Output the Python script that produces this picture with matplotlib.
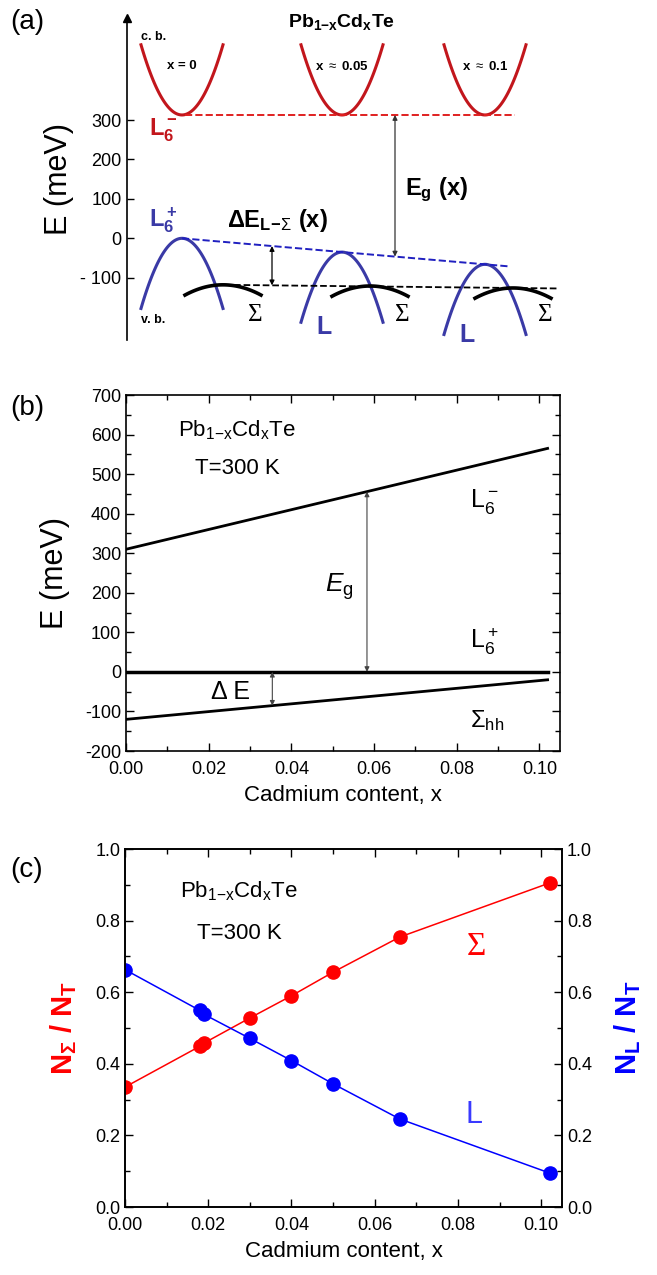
import numpy as np
import matplotlib
matplotlib.use("Agg")
import matplotlib.pyplot as plt
from matplotlib.ticker import MultipleLocator, FormatStrFormatter

plt.rcParams['font.family'] = ['Liberation Sans', 'DejaVu Sans']
plt.rcParams['mathtext.fontset'] = 'custom'
plt.rcParams['mathtext.rm'] = 'Liberation Sans'
plt.rcParams['mathtext.it'] = 'Liberation Sans:italic'
plt.rcParams['mathtext.bf'] = 'Liberation Sans:bold'
plt.rcParams['axes.unicode_minus'] = False

# ---- panel (a): schematic band edges (arbitrary k units, meV) ----
k_center = [55, 215, 358]          # L point of each composition
E_c_L = [313, 313, 313]            # L6- conduction band minimum
E_v_L = [0, -35, -66]              # L6+ valence band maximum
k_sigma = [96, 243, 386]           # Sigma valence band maxima
E_v_S = [-118, -121, -126]
comp_labels = ['x = 0', r'x $\approx$ 0.05', r'x $\approx$ 0.1']
L_halfwidth = 41
L_depth = 178
S_halfwidth = 38
S_depth = 26

# ---- panel (b): band energies vs Cd content ----
x_b = [0.0, 0.102]
E_L6m = [310, 565]
E_L6p = [0, 0]
E_Shh = [-120, -20]

# ---- panel (c): carrier fractions ----
x_c = [0.0, 0.018, 0.019, 0.030, 0.040, 0.050, 0.066, 0.102]
n_sigma = [0.335, 0.449, 0.458, 0.528, 0.590, 0.656, 0.754, 0.905]
n_L = [0.663, 0.549, 0.538, 0.471, 0.409, 0.344, 0.246, 0.095]

W, H = 657, 1275
fig = plt.figure(figsize=(W / 100, H / 100), dpi=100)

red_a = '#c2161c'
blue_a = '#3a3aa6'

# ================= (a) =================
ax_a = fig.add_axes([127 / W, 1 - 340 / H, 530 / W, 322 / H])
ax_a.set_xlim(0, 530)
ax_a.set_ylim(-258, 559)
for s in ['top', 'right', 'bottom']:
    ax_a.spines[s].set_visible(False)
ax_a.spines['left'].set_linewidth(1.2)
ax_a.set_xticks([])
ax_a.set_yticks([-100, 0, 100, 200, 300])
ax_a.set_yticklabels(['- 100', '0', '100', '200', '300'])
ax_a.tick_params(axis='y', direction='in', length=5, width=1, labelsize=13, pad=4)
ax_a.plot(0, 1, marker='^', color='k', markersize=6, transform=ax_a.transAxes, clip_on=False)
ax_a.set_ylabel('E (meV)', fontsize=22)
ax_a.yaxis.set_label_coords(-0.1, 0.5)

kk = np.linspace(-L_halfwidth, L_halfwidth, 120)
ks = np.linspace(-S_halfwidth, S_halfwidth, 120)
for kc, ec, ev, kS, eS in zip(k_center, E_c_L, E_v_L, k_sigma, E_v_S):
    ax_a.plot(kc + kk, ec + L_depth * (kk / L_halfwidth) ** 2, color=red_a, lw=2.2)
    ax_a.plot(kc + kk, ev - L_depth * (kk / L_halfwidth) ** 2, color=blue_a, lw=2.2, clip_on=False)
    ax_a.plot(kS + ks, eS - S_depth * (ks / S_halfwidth) ** 2, color='k', lw=2.6)

# dashed guide lines through band extrema
ax_a.plot([k_center[0] + 3, 388], [E_c_L[0], E_c_L[-1]], '--', color='#e02020', lw=1.4)
slope_v = (E_v_L[-1] - E_v_L[0]) / (k_center[-1] - k_center[0])
ax_a.plot([k_center[0], 383], [E_v_L[0], E_v_L[0] + slope_v * (383 - k_center[0])],
          '--', color='#2020c0', lw=1.4)
slope_s = (E_v_S[-1] - E_v_S[0]) / (k_sigma[-1] - k_sigma[0])
ax_a.plot([107, 430], [E_v_S[0] + slope_s * (107 - k_sigma[0]), E_v_S[0] + slope_s * (430 - k_sigma[0])],
          '--', color='k', lw=1.3)

# arrows
k_eg = 268
ev_eg = E_v_L[0] + slope_v * (k_eg - k_center[0])
ax_a.annotate('', xy=(k_eg, ev_eg), xytext=(k_eg, E_c_L[0]),
              arrowprops=dict(arrowstyle='<|-|>', color='#333333', lw=0.9,
                              mutation_scale=7, shrinkA=0, shrinkB=0))
k_de = 145
ax_a.annotate('', xy=(k_de, E_v_S[0] + slope_s * (k_de - k_sigma[0])),
              xytext=(k_de, E_v_L[0] + slope_v * (k_de - k_center[0])),
              arrowprops=dict(arrowstyle='<|-|>', color='k', lw=0.9,
                              mutation_scale=7, shrinkA=0, shrinkB=0))

ax_a.text(215, 549, r'Pb$_\mathbf{1{-}x}$Cd$_\mathbf{x}$Te', fontsize=14, fontweight='bold',
          ha='center', va='center')
ax_a.text(14, 511, 'c. b.', fontsize=9, fontweight='bold', ha='left', va='center')
ax_a.text(14, -207, 'v. b.', fontsize=9, fontweight='bold', ha='left', va='center')
for kc, lab in zip(k_center, comp_labels):
    ax_a.text(kc, 437, lab, fontsize=9.5, fontweight='bold', ha='center', va='center')
ax_a.text(22, 275, r'$\mathbf{L_6^-}$', fontsize=17, color=red_a, ha='left', va='center')
ax_a.text(22, 45, r'$\mathbf{L_6^+}$', fontsize=17, color=blue_a, ha='left', va='center')
ax_a.text(278, 122, r'$\mathbf{E_g}$ (x)', fontsize=17, fontweight='bold', ha='left', va='center')
ax_a.text(100, 46, r'$\mathbf{\Delta E_{L{-}}}$$_{\Sigma}$ (x)', fontsize=17, fontweight='bold',
          ha='left', va='center')
for kS in k_sigma:
    ax_a.text(kS + 32, -194, 'Σ', fontsize=18, family='Liberation Serif', ha='center', va='center')
for kc, ev in zip(k_center[1:], [-225, -245]):
    ax_a.text(kc - 18, ev, 'L', fontsize=18, fontweight='bold', color=blue_a,
              ha='center', va='center', clip_on=False)

# ================= (b) =================
ax_b = fig.add_axes([126 / W, 1 - 751 / H, 434 / W, 356 / H])
ax_b.plot(x_b, E_L6m, color='k', lw=2)
ax_b.plot(x_b, E_L6p, color='k', lw=2.5)
ax_b.plot(x_b, E_Shh, color='k', lw=2)
ax_b.set_xlim(0, 0.105)
ax_b.set_ylim(-200, 700)
ax_b.xaxis.set_major_locator(MultipleLocator(0.02))
ax_b.xaxis.set_minor_locator(MultipleLocator(0.01))
ax_b.xaxis.set_major_formatter(FormatStrFormatter('%.2f'))
ax_b.yaxis.set_major_locator(MultipleLocator(100))
ax_b.yaxis.set_minor_locator(MultipleLocator(50))
ax_b.tick_params(which='both', direction='in', top=True, right=True, labelsize=13, width=1)
ax_b.tick_params(which='major', length=6)
ax_b.tick_params(which='minor', length=3.5)
ax_b.tick_params(axis='x', pad=7)
for s in ax_b.spines.values():
    s.set_linewidth(1.2)
ax_b.set_ylabel('E (meV)', fontsize=22)
ax_b.yaxis.set_label_coords(-0.13, 0.5)
ax_b.set_xlabel('Cadmium content, x', fontsize=16, labelpad=5)

x_eg = 0.0583
eg_top = np.interp(x_eg, x_b, E_L6m)
ax_b.annotate('', xy=(x_eg, 0), xytext=(x_eg, eg_top),
              arrowprops=dict(arrowstyle='<|-|>', color='#444444', lw=0.8,
                              mutation_scale=7, shrinkA=0, shrinkB=0))
x_de = 0.0354
ax_b.annotate('', xy=(x_de, np.interp(x_de, x_b, E_Shh)), xytext=(x_de, 0),
              arrowprops=dict(arrowstyle='<|-|>', color='#444444', lw=0.8,
                              mutation_scale=7, shrinkA=0, shrinkB=0))
ax_b.text(0.0269, 611, r'Pb$_\mathregular{1{-}x}$Cd$_\mathregular{x}$Te', fontsize=16, ha='center', va='center')
ax_b.text(0.0269, 514, 'T=300 K', fontsize=16, ha='center', va='center')
ax_b.text(0.0515, 215, r'$\mathit{E}_\mathregular{g}$', fontsize=19, ha='center', va='center')
ax_b.text(0.0252, -52, 'Δ E', fontsize=18, ha='center', va='center')
ax_b.text(0.0832, 430, r'$\mathregular{L}_6^-$', fontsize=18, ha='left', va='center')
ax_b.text(0.0832, 78, r'$\mathregular{L}_6^+$', fontsize=18, ha='left', va='center')
ax_b.text(0.0832, -122, r'$\mathit{Σ}_\mathregular{hh}$', fontsize=17, ha='left', va='center')

# ================= (c) =================
ax_c = fig.add_axes([125 / W, 1 - 1207 / H, 437 / W, 358 / H])
ax_c.plot(x_c, n_sigma, '-o', color='#ff0000', lw=1.1, ms=9.5)
ax_c.plot(x_c, n_L, '-o', color='#0000ff', lw=1.1, ms=9.5)
ax_c.set_xlim(0, 0.105)
ax_c.set_ylim(0, 1.0)
ax_c2 = ax_c.twinx()
ax_c2.set_ylim(0, 1.0)
for a in (ax_c, ax_c2):
    a.yaxis.set_major_locator(MultipleLocator(0.2))
    a.yaxis.set_minor_locator(MultipleLocator(0.1))
    a.yaxis.set_major_formatter(FormatStrFormatter('%.1f'))
    a.tick_params(which='both', direction='in', labelsize=13, width=1)
    a.tick_params(which='major', length=6)
    a.tick_params(which='minor', length=3.5)
    for s in a.spines.values():
        s.set_linewidth(1.2)
ax_c.xaxis.set_major_locator(MultipleLocator(0.02))
ax_c.xaxis.set_minor_locator(MultipleLocator(0.01))
ax_c.xaxis.set_major_formatter(FormatStrFormatter('%.2f'))
ax_c.tick_params(which='both', top=True)
ax_c.tick_params(axis='x', pad=7)
ax_c.set_xlabel('Cadmium content, x', fontsize=16, labelpad=5)
ax_c.set_ylabel(r'$\mathbf{N_{\Sigma}\ /\ N_T}$', fontsize=21, color='#ff0000')
ax_c.yaxis.set_label_coords(-0.105, 0.5)
ax_c2.set_ylabel(r'$\mathbf{N_L\ /\ N_T}$', fontsize=21, color='#0000ff', rotation=90)
ax_c2.yaxis.set_label_coords(1.115, 0.5)
ax_c.text(0.0274, 0.882, r'Pb$_\mathregular{1{-}x}$Cd$_\mathregular{x}$Te', fontsize=16, ha='center', va='center')
ax_c.text(0.0274, 0.765, 'T=300 K', fontsize=16, ha='center', va='center')
ax_c.text(0.0844, 0.728, 'Σ', fontsize=24, family='Liberation Serif', color='#ff0000', ha='center', va='center')
ax_c.text(0.0839, 0.258, 'L', fontsize=22, color='#3a3aff', ha='center', va='center')

# panel letters
fig.text(27 / W, 1 - 22 / H, '(a)', fontsize=20, ha='center', va='center')
fig.text(27 / W, 1 - 408 / H, '(b)', fontsize=20, ha='center', va='center')
fig.text(27 / W, 1 - 870 / H, '(c)', fontsize=20, ha='center', va='center')

fig.savefig('out.png', dpi=100)
